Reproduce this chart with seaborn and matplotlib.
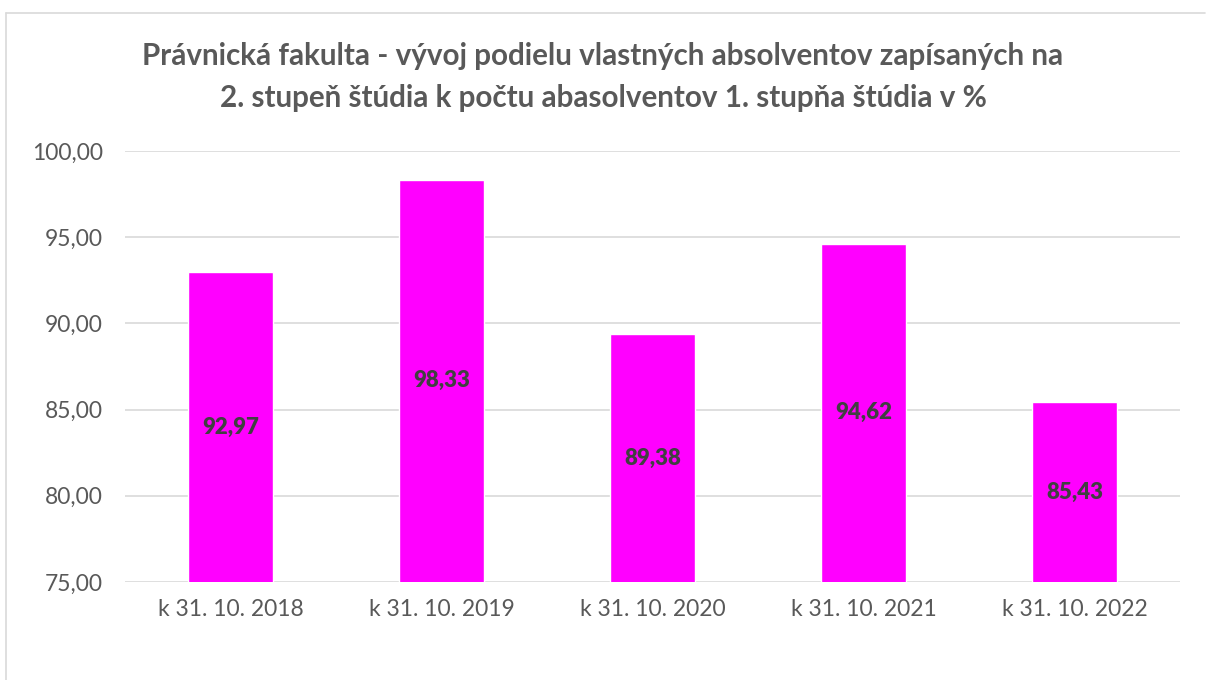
import pandas as pd
import seaborn as sns
from matplotlib import pyplot as plt
from matplotlib.lines import Line2D
from matplotlib.ticker import FuncFormatter

CATEGORIES = ["k 31. 10. 2018", "k 31. 10. 2019", "k 31. 10. 2020",
              "k 31. 10. 2021", "k 31. 10. 2022"]
VALUES = [92.97, 98.33, 89.38, 94.62, 85.43]

TITLE = ("Právnická fakulta - vývoj podielu vlastných absolventov zapísaných na\n"
         "2. stupeň štúdia k počtu abasolventov 1. stupňa štúdia v %")

TEXT_GREY = "#595959"
GRID_GREY = "#D9D9D9"

sns.set_theme(style="white")
plt.rcParams['font.family'] = ['Lato', 'DejaVu Sans']

df = pd.DataFrame({"datum": CATEGORIES, "podiel": VALUES})

fig = plt.figure(figsize=(12.06, 6.8), dpi=100)
ax = fig.add_axes([125 / 1206, 1 - 582 / 680, (1180 - 125) / 1206, (582 - 151) / 680])

sns.barplot(data=df, x="datum", y="podiel", color="#FF00FF", saturation=1,
            width=0.40, ax=ax, zorder=3)

ax.set_ylim(75, 100)
ax.set_yticks([75, 80, 85, 90, 95, 100])
ax.yaxis.set_major_formatter(FuncFormatter(lambda v, _: f"{v:.2f}".replace(".", ",")))
ax.grid(axis="y", color=GRID_GREY, linewidth=1.2, zorder=0)
sns.despine(ax=ax, left=True, bottom=True, top=True, right=True)
ax.set_xlabel("")
ax.set_ylabel("")
ax.tick_params(axis="both", length=0, labelsize=16.5, labelcolor=TEXT_GREY)
ax.tick_params(axis="y", pad=16)
ax.tick_params(axis="x", pad=12)

# value labels centred in the bars
for i, v in enumerate(VALUES):
    ax.text(i, (75 + v) / 2, f"{v:.2f}".replace(".", ","), ha="center", va="center",
            fontsize=16, fontweight="heavy", color="#404040", zorder=4)

fig.text(0.5, 1 - 77 / 680, TITLE, ha="center", va="center", fontsize=21.3,
         fontweight="bold", color=TEXT_GREY, linespacing=1.65)

# chart frame (top and left edges visible in the original)
fig.add_artist(Line2D([6 / 1206, 6 / 1206], [0, 1 - 13 / 680], color=GRID_GREY, lw=1.2))
fig.add_artist(Line2D([6 / 1206, 1206 / 1206 - 0.001], [1 - 13 / 680, 1 - 13 / 680],
                      color=GRID_GREY, lw=1.2))

fig.savefig("out.png", dpi=100)
